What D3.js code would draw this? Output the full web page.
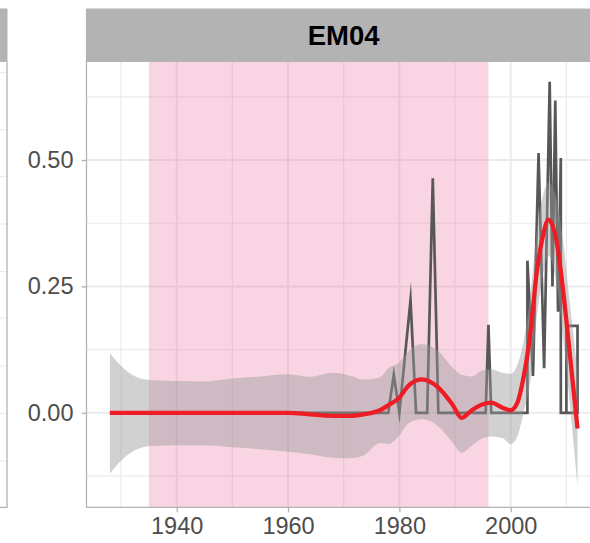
<!DOCTYPE html>
<html>
<head>
<meta charset="utf-8">
<script src="https://cdn.jsdelivr.net/npm/d3@7"></script>
<style>
  html, body { margin: 0; padding: 0; background: #ffffff; }
  svg { display: block; }
  text { font-family: "Liberation Sans", Arial, Helvetica, sans-serif; }
</style>
</head>
<body>
<svg id="chart" width="590" height="543"></svg>
<script>
// Facet title
const facetTitle = "EM04";

// Shaded period (years)
const periodStart = 1935;
const periodEnd = 1996;

// Observed series: year / value (repeated years give vertical steps)
const obsYear  = [1928, 1978, 1979, 1980, 1982, 1983, 1985, 1986, 1987, 1995.5, 1996, 1996.5,
                  2003, 2003, 2004, 2005, 2006, 2007, 2007.5, 2008, 2008.5, 2009, 2009,
                  2010, 2010, 2012, 2012, 2010];
const obsValue = [0, 0, 0.075, 0, 0.223, 0, 0, 0.464, 0, 0, 0.174, 0,
                  0, 0.301, 0.073, 0.514, 0.088, 0.655, 0.25, 0.618, 0.2, 0.504, 0,
                  0, 0.172, 0.172, 0, 0];

// Smoothed trend with its confidence band
const smoothYear  = [1928, 1930, 1932, 1935, 1940, 1945, 1950, 1955, 1960, 1964, 1968, 1971,
                     1973.5, 1976.5, 1978, 1980, 1981.5, 1984, 1987, 1989.5, 1991.2, 1993,
                     1995, 1996.5, 1998.5, 2000, 2001.2, 2002.3, 2003.5, 2004.7, 2005.6,
                     2006.8, 2008.3, 2009.4, 2010.6, 2012];
const smoothFit   = [0, 0, 0, 0, 0, 0, 0, 0, 0, -0.003, -0.006, -0.006,
                     -0.003, 0.005, 0.015, 0.030, 0.052, 0.066, 0.050, 0.017, -0.010, 0.005,
                     0.017, 0.020, 0.010, 0.005, 0.020, 0.070, 0.155, 0.280, 0.340,
                     0.382, 0.335, 0.243, 0.118, -0.031];
const smoothLower = [-0.120, -0.095, -0.077, -0.066, -0.064, -0.064, -0.068, -0.072, -0.077, -0.082, -0.089, -0.090,
                     -0.085, -0.060, -0.062, -0.045, -0.022, -0.013, -0.027, -0.058, -0.079, -0.065,
                     -0.050, -0.047, -0.050, -0.062, -0.047, 0.000, 0.060, 0.190, 0.260,
                     0.310, 0.250, 0.150, 0.020, -0.146];
const smoothUpper = [0.118, 0.093, 0.075, 0.065, 0.063, 0.062, 0.068, 0.072, 0.076, 0.071, 0.079, 0.074,
                     0.066, 0.070, 0.088, 0.100, 0.120, 0.136, 0.122, 0.090, 0.075, 0.072,
                     0.084, 0.086, 0.079, 0.077, 0.095, 0.140, 0.230, 0.360, 0.420,
                     0.455, 0.420, 0.340, 0.220, 0.080];

// Axis ticks
const xTicks = [1940, 1960, 1980, 2000];
const xMinor = [1930, 1950, 1970, 1990, 2010];
const yTicks = [0, 0.25, 0.5];
const yMinor = [-0.125, 0.125, 0.375, 0.625];
const yTickLabels = ["0.00", "0.25", "0.50"];

// Neighbouring panel's grid rows (only its edge is in view)
const neighbourGridY = [72.7, 129.8, 176.5, 224, 271.6, 318, 366, 413.5, 461];

const svg = d3.select("#chart");

const panel = { left: 86.5, right: 600.9, top: 62, bottom: 507.3 };
const strip = { top: 8.5, bottom: 62 };

const x = d3.scaleLinear().domain([1923.8, 2016.2]).range([panel.left, panel.right]);
const y = d3.scaleLinear().domain([-0.187, 0.694]).range([panel.bottom, panel.top]);

const gridCol = "#ebebeb";
const borderCol = "#b3b3b3";

// ---- neighbouring panel edge on the left ----
const nb = svg.append("g");
nb.append("rect").attr("x", -10).attr("y", strip.top).attr("width", 17.5)
  .attr("height", strip.bottom - strip.top).attr("fill", "#b3b3b3");
nb.selectAll("line.g").data(neighbourGridY).join("line")
  .attr("x1", 0).attr("x2", 7).attr("y1", d => d).attr("y2", d => d)
  .attr("stroke", gridCol).attr("stroke-width", 1.2);
nb.append("path")
  .attr("d", `M0,${panel.bottom}H7V${strip.bottom}`)
  .attr("fill", "none").attr("stroke", borderCol).attr("stroke-width", 1.3);

// ---- main panel ----
const clipId = "panelClip";
svg.append("clipPath").attr("id", clipId).append("rect")
  .attr("x", panel.left).attr("y", panel.top)
  .attr("width", panel.right - panel.left).attr("height", panel.bottom - panel.top);

const g = svg.append("g").attr("clip-path", `url(#${clipId})`);

// grid
g.selectAll("line.ymin").data(yMinor).join("line")
  .attr("x1", panel.left).attr("x2", panel.right)
  .attr("y1", d => y(d)).attr("y2", d => y(d))
  .attr("stroke", gridCol).attr("stroke-width", 1.2);
g.selectAll("line.xmin").data(xMinor).join("line")
  .attr("y1", panel.top).attr("y2", panel.bottom)
  .attr("x1", d => x(d)).attr("x2", d => x(d))
  .attr("stroke", gridCol).attr("stroke-width", 1.2);
g.selectAll("line.ymaj").data(yTicks).join("line")
  .attr("x1", panel.left).attr("x2", panel.right)
  .attr("y1", d => y(d)).attr("y2", d => y(d))
  .attr("stroke", gridCol).attr("stroke-width", 2);
g.selectAll("line.xmaj").data(xTicks).join("line")
  .attr("y1", panel.top).attr("y2", panel.bottom)
  .attr("x1", d => x(d)).attr("x2", d => x(d))
  .attr("stroke", gridCol).attr("stroke-width", 2);

// shaded period
g.append("rect")
  .attr("x", x(periodStart)).attr("width", x(periodEnd) - x(periodStart))
  .attr("y", panel.top).attr("height", panel.bottom - panel.top)
  .attr("fill", "#eb73a2").attr("fill-opacity", 0.3);

// observed series
const obs = obsYear.map((yr, i) => ({ yr, v: obsValue[i] }));
g.append("path")
  .attr("d", d3.line().x(d => x(d.yr)).y(d => y(d.v))(obs))
  .attr("fill", "none").attr("stroke", "#575757").attr("stroke-width", 2.7)
  .attr("stroke-linejoin", "miter").attr("stroke-miterlimit", 20);

// confidence band and trend
const sm = smoothYear.map((yr, i) => ({ yr, fit: smoothFit[i], lo: smoothLower[i], hi: smoothUpper[i] }));
g.append("path")
  .attr("d", d3.area().curve(d3.curveMonotoneX)
    .x(d => x(d.yr)).y0(d => y(d.lo)).y1(d => y(d.hi))(sm))
  .attr("fill", "#999999").attr("fill-opacity", 0.45);
g.append("path")
  .attr("d", d3.line().curve(d3.curveMonotoneX).x(d => x(d.yr)).y(d => y(d.fit))(sm))
  .attr("fill", "none").attr("stroke", "#ee1c25").attr("stroke-width", 4.3)
  .attr("stroke-linecap", "butt");

// panel border (left and bottom edges are in view)
svg.append("path")
  .attr("d", `M${panel.left},${panel.top}V${panel.bottom}H${panel.right}`)
  .attr("fill", "none").attr("stroke", borderCol).attr("stroke-width", 1.3);

// strip
svg.append("rect")
  .attr("x", panel.left - 0.6).attr("y", strip.top)
  .attr("width", panel.right - panel.left + 0.6).attr("height", strip.bottom - strip.top)
  .attr("fill", "#b3b3b3");
svg.append("text")
  .attr("x", (panel.left + panel.right) / 2).attr("y", (strip.top + strip.bottom) / 2)
  .attr("dy", "0.36em").attr("text-anchor", "middle")
  .attr("font-size", 27.5).attr("font-weight", "bold").attr("fill", "#000000")
  .text(facetTitle);

// axes
const yAxis = d3.axisLeft(y).tickValues(yTicks).tickFormat((d, i) => yTickLabels[i])
  .tickSize(5).tickPadding(8);
const ya = svg.append("g").attr("transform", `translate(${panel.left},0)`).call(yAxis);
const xAxis = d3.axisBottom(x).tickValues(xTicks).tickFormat(d3.format("d"))
  .tickSize(5).tickPadding(5);
const xa = svg.append("g").attr("transform", `translate(0,${panel.bottom})`).call(xAxis);

[ya, xa].forEach(a => {
  a.select(".domain").remove();
  a.selectAll(".tick line").attr("stroke", borderCol).attr("stroke-width", 1.3);
  a.selectAll(".tick text").attr("fill", "#4d4d4d").attr("font-size", 23.5)
    .attr("font-family", "\"Liberation Sans\", Arial, sans-serif");
});
</script>
</body>
</html>
